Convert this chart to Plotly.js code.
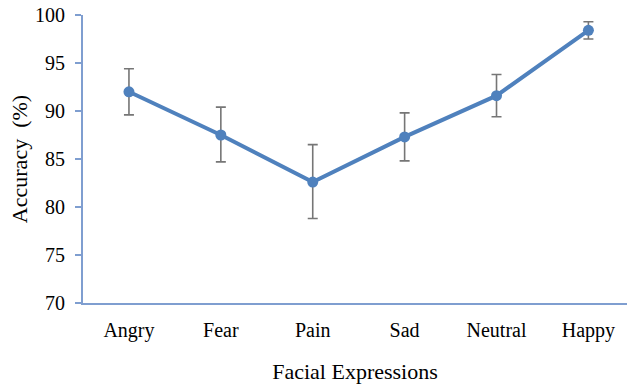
<!DOCTYPE html>
<html>
<head>
<meta charset="utf-8">
<script src="https://cdn.plot.ly/plotly-3.0.1.min.js"></script>
<style>html,body{margin:0;padding:0;background:#fff;}#chart{width:627px;height:387px;}</style>
</head>
<body>
<div id="chart"></div>
<script>
const categories = ["Angry", "Fear", "Pain", "Sad", "Neutral", "Happy"];
const accuracy = [92.0, 87.5, 82.6, 87.3, 91.6, 98.4];
const errUpper = [2.4, 2.9, 3.9, 2.5, 2.2, 0.9];
const errLower = [2.4, 2.8, 3.8, 2.5, 2.2, 0.9];
const yTicks = [70, 75, 80, 85, 90, 95, 100];

const trace = {
  x: categories,
  y: accuracy,
  type: "scatter",
  mode: "lines+markers",
  line: {color: "#4f81bd", width: 4},
  marker: {color: "#4f81bd", size: 11},
  error_y: {
    type: "data",
    symmetric: false,
    array: errUpper,
    arrayminus: errLower,
    color: "#767676",
    thickness: 1.6,
    width: 5
  },
  hoverinfo: "none"
};

const font = {family: "Liberation Serif, Times New Roman, serif", color: "#000"};

const layout = {
  width: 627, height: 387,
  margin: {l: 83, r: 0, t: 15, b: 84},
  paper_bgcolor: "#fff",
  plot_bgcolor: "#fff",
  showlegend: false,
  font: font,
  xaxis: {
    type: "category",
    range: [-0.5, 5.42],
    showgrid: false,
    zeroline: false,
    showline: true,
    linecolor: "#7f9ed0",
    linewidth: 2,
    ticks: "",
    ticklabelstandoff: 8,
    tickfont: {family: font.family, size: 20, color: "#000"},
    title: {text: "Facial Expressions", font: {family: font.family, size: 22, color: "#000"}, standoff: 23},
    automargin: false,
    fixedrange: true
  },
  yaxis: {
    range: [70, 100],
    tickvals: yTicks,
    ticktext: yTicks.map(String),
    showgrid: false,
    zeroline: false,
    showline: true,
    linecolor: "#7f9ed0",
    linewidth: 2,
    ticks: "outside",
    ticklen: 6,
    tickwidth: 2,
    tickcolor: "#7f9ed0",
    ticklabelstandoff: 6,
    tickfont: {family: font.family, size: 20, color: "#000"},
    title: {text: "Accuracy  (%)", font: {family: font.family, size: 22, color: "#000"}, standoff: 1},
    automargin: false,
    fixedrange: true
  }
};

Plotly.newPlot("chart", [trace], layout, {displayModeBar: false, staticPlot: true});
</script>
</body>
</html>
